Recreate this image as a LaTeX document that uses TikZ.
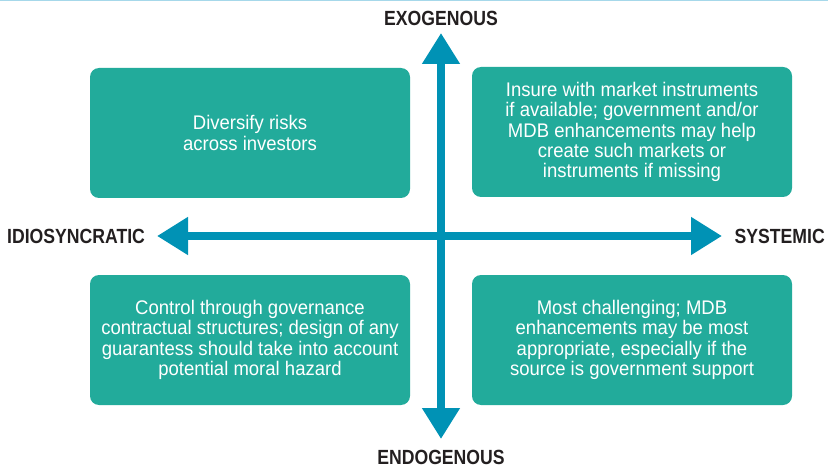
\documentclass[tikz,border=0pt]{standalone}
\usepackage{fontspec}
\usepackage{tikz}
\usetikzlibrary{arrows.meta}
\newfontfamily\boxfont{Liberation Sans}[FakeStretch=0.94]
\newfontfamily\axisfont{Liberation Sans}[FakeStretch=0.86]
\definecolor{boxteal}{RGB}{34,171,155}
\definecolor{axisblue}{RGB}{0,146,181}
\definecolor{labgray}{RGB}{35,31,32}
\definecolor{rulecyan}{RGB}{166,216,234}

\begin{document}
\begin{tikzpicture}[
  x=1pt, y=-1pt,
  quad/.style={rectangle, rounded corners=9pt, fill=boxteal,
               minimum width=320pt, minimum height=130pt,
               text=white, align=center, inner sep=0pt,
               font=\boxfont\fontsize{19.7}{20.2}\selectfont},
  axislab/.style={text=labgray, inner sep=0pt,
                  font=\axisfont\bfseries\fontsize{20.5}{22}\selectfont},
  axisarr/.style={{Triangle[length=31pt,width=36pt]}-{Triangle[length=31pt,width=36pt]},
                  line width=8.5pt, draw=axisblue},
]
\useasboundingbox (0,0) rectangle (828,468);
\draw[rulecyan, line width=1.2pt] (0,0.6) -- (828,0.6);

% the four quadrants
\node[quad] (exoidio) at (250,133) {Diversify risks\\across investors};
\node[quad] (exosys)  at (632,132) {Insure with market instruments\\if available; government and/or\\MDB enhancements may help\\create such markets or\\instruments if missing};
\node[quad] (endoidio) at (250,340) {Control through governance\\contractual structures; design of any\\guarantess should take into account\\potential moral hazard};
\node[quad] (endosys)  at (632,340) {Most challenging; MDB\\enhancements may be most\\appropriate, especially if the\\source is government support};

% axis labels
\node[axislab] (exo)   at (441,18)  {EXOGENOUS};
\node[axislab] (endo)  at (441,457) {ENDOGENOUS};
\node[axislab, anchor=west] (idio) at (7,236)  {IDIOSYNCRATIC};
\node[axislab, anchor=east] (sys)  at (825,236) {SYSTEMIC};

% axis ends
\coordinate (vtop) at (441,33);
\coordinate (vbot) at (441,439);
\coordinate (hleft)  at (157,236);
\coordinate (hright) at (722,236);

\draw[axisarr] (vbot) -- (vtop);
\draw[axisarr] (hleft) -- (hright);
\end{tikzpicture}
\end{document}
